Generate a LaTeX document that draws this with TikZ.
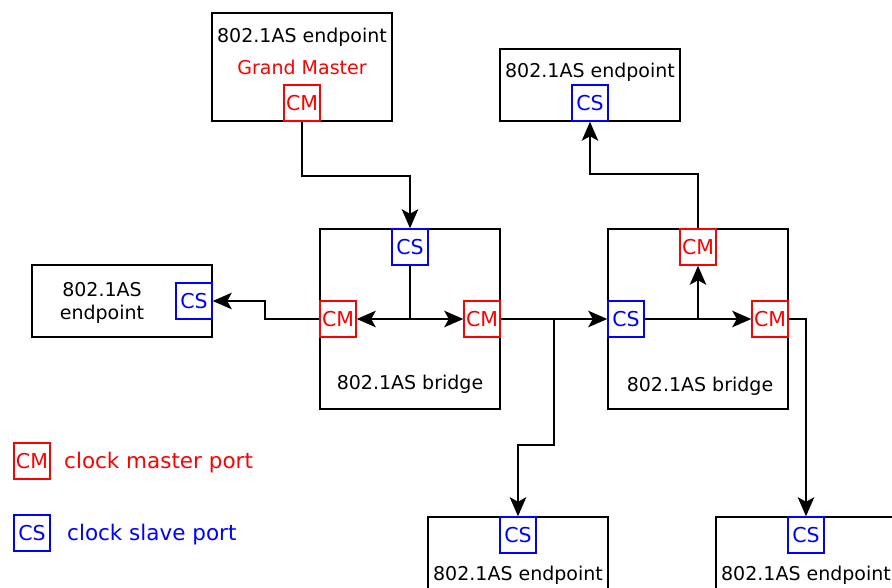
\documentclass[tikz,border=0pt]{standalone}
\usepackage{fontspec}
\setmainfont{DejaVu Sans}
\usetikzlibrary{positioning, arrows.meta, calc}

\begin{document}
\begin{tikzpicture}[
  x=1pt, y=-1pt,
  txt/.style      = {font=\fontsize{19}{23}\selectfont, inner sep=0pt},
  gmtxt/.style    = {font=\fontsize{19}{23}\selectfont, inner sep=0pt, text=red},
  legtxt/.style   = {font=\fontsize{21.5}{25}\selectfont, inner sep=0pt, anchor=west},
  box/.style      = {draw, line width=1.5pt, inner sep=0pt},
  port/.style     = {draw, line width=1.5pt, minimum size=36pt, inner sep=0pt,
                     font=\fontsize{20.5}{24}\selectfont},
  cmport/.style   = {port, draw=red, text=red},
  csport/.style   = {port, draw=blue, text=blue},
  arr/.style      = {line width=1.6pt, -{Stealth[length=19pt 0, width=16.5pt 0, inset=4.5pt 0]}},
  wire/.style     = {line width=1.6pt},
]
\useasboundingbox (0,0) rectangle (892,587);

% =============================================================
% Endpoints at the top
% =============================================================
\node[box, minimum width=180pt, minimum height=108pt] (gm) at (302,67) {};
\node[txt]    (gm title) at (302,37) {802.1AS endpoint};
\node[gmtxt]  (gm name)  at (302,67) {Grand Master};
\node[cmport] (gm cm)    at (302,103) {CM};

\node[box, minimum width=180pt, minimum height=72pt] (ept) at (590,85) {};
\node[txt]    (ept title) at (590,72) {802.1AS endpoint};
\node[csport] (ept cs)    at (590,103) {CS};

% =============================================================
% Endpoint on the left
% =============================================================
\node[box, minimum width=180pt, minimum height=72pt] (epl) at (122,301) {};
\node[txt, align=center] (epl title) at (102,303) {802.1AS\\endpoint};
\node[csport] (epl cs) at (194,301) {CS};

% =============================================================
% Bridge 1
% =============================================================
\node[box, minimum size=180pt] (b1) at (410,319) {};
\node[csport] (b1 cs)  at (410,247) {CS};
\node[cmport] (b1 cml) at (338,319) {CM};
\node[cmport] (b1 cmr) at (482,319) {CM};
\node[txt] (b1 title) at (410,384) {802.1AS bridge};
\coordinate (b1 hub) at (410,319);

% =============================================================
% Bridge 2
% =============================================================
\node[box, minimum size=180pt] (b2) at (698,319) {};
\node[cmport] (b2 cmt) at (698,247) {CM};
\node[csport] (b2 cs)  at (626,319) {CS};
\node[cmport] (b2 cmr) at (770,319) {CM};
\node[txt] (b2 title) at (700,386) {802.1AS bridge};
\coordinate (b2 hub) at (698,319);

% =============================================================
% Endpoints at the bottom (cut by the page edge)
% =============================================================
\node[box, minimum width=180pt, minimum height=108pt] (epb1) at (518,571) {};
\node[csport] (epb1 cs)    at (518,535) {CS};
\node[txt]    (epb1 title) at (518,575) {802.1AS endpoint};

\node[box, minimum width=180pt, minimum height=108pt] (epb2) at (806,571) {};
\node[csport] (epb2 cs)    at (806,535) {CS};
\node[txt]    (epb2 title) at (806,575) {802.1AS endpoint};

% =============================================================
% Legend
% =============================================================
\node[cmport] (leg cm) at (32,461) {CM};
\node[legtxt, text=red]  (leg cm txt) at (64,463) {clock master port};
\node[csport] (leg cs) at (32,533) {CS};
\node[legtxt, text=blue] (leg cs txt) at (67,535) {clock slave port};

% =============================================================
% Connectors
% =============================================================
\draw[arr] (gm cm.south) -- ++(0,54) -| (b1 cs.north);

% inside bridge 1
\draw[wire] (b1 cs.south) -- (b1 hub);
\draw[arr] (b1 hub) -- (b1 cml.east);
\draw[arr] (b1 hub) -- (b1 cmr.west);

\draw[arr] (b1 cml.west) -- ++(-54,0) |- (epl cs.east);
\draw[arr] (b1 cmr.east) -- (b2 cs.west);

% branch down to the first bottom endpoint
\coordinate (b1 split) at (554,319);
\draw[arr] (b1 split) -- ++(0,126) -| (epb1 cs.north);

% inside bridge 2
\draw[arr] (b2 cs.east) -- (b2 cmr.west);
\draw[arr] (b2 hub) -- (b2 cmt.south);

\draw[arr] (b2 cmt.north) -- ++(0,-54) -| (ept cs.south);
\draw[arr] (b2 cmr.east) -| (epb2 cs.north);

\end{tikzpicture}
\end{document}
